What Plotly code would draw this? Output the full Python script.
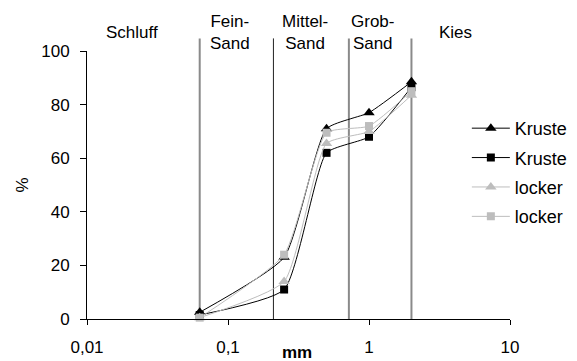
import numpy as np
import plotly.graph_objects as go

# data
grain_mm = [0.063, 0.25, 0.5, 1, 2]
kruste_tri = [2.5, 23, 71, 77, 88.5]
kruste_sq = [1.5, 11, 62, 68, 86.5]
locker_tri = [0.5, 14, 65.5, 70, 83.5]
locker_sq = [0.5, 24, 69.5, 72, 85]
boundaries_mm = [0.063, 0.21, 0.72, 2.0]
boundary_colors = ["#8a8a8a", "#222222", "#8a8a8a", "#8a8a8a"]
boundary_widths = [2, 1, 2, 2]
class_labels = ["Schluff", "Fein-<br>Sand", "Mittel-<br>Sand", "Grob-<br>Sand", "Kies"]
class_label_x = [0.107, 0.338, 0.515, 0.674, 0.870]
y_ticks = [0, 20, 40, 60, 80, 100]
x_ticks = [0.01, 0.1, 1, 10]
x_tick_text = ["0,01", "0,1", "1", "10"]

FONT = "Liberation Sans, Arial, sans-serif"
BLACK = "#000000"
GRAY = "#bdbdbd"

fig = go.Figure()
series = [
    ("Kruste", kruste_tri, "triangle-up", BLACK, 10),
    ("Kruste", kruste_sq, "square", BLACK, 8),
    ("locker", locker_tri, "triangle-up", GRAY, 10),
    ("locker", locker_sq, "square", GRAY, 8),
]
for i, (name, vals, sym, col, sz) in enumerate(series):
    fig.add_trace(go.Scatter(
        x=grain_mm, y=vals, name=name, mode="lines+markers",
        line=dict(color=col, width=1, shape="spline", smoothing=0.5),
        marker=dict(symbol=sym, size=sz, color=col),
        legendgroup=f"g{i}", cliponaxis=False,
    ))

for b, c, w in zip(boundaries_mm, boundary_colors, boundary_widths):
    fig.add_shape(type="line", xref="x", yref="paper",
                  x0=b, x1=b, y0=0, y1=1.047,
                  line=dict(color=c, width=w), layer="below")

for t, xp in zip(class_labels, class_label_x):
    fig.add_annotation(text=t, xref="paper", yref="paper", x=xp, y=1.070,
                       showarrow=False, font=dict(size=17, color="#000", family=FONT),
                       xanchor="center", yanchor="middle", align="center")

fig.add_annotation(text="<b>mm</b>", xref="paper", yref="paper", x=0.497, y=-0.126,
                   showarrow=False, font=dict(size=17, color="#000", family=FONT),
                   xanchor="center", yanchor="middle")

fig.update_layout(
    width=577, height=361,
    margin=dict(l=87, r=67, t=50.7, b=41.7, autoexpand=False),
    paper_bgcolor="white", plot_bgcolor="white",
    font=dict(family=FONT, size=17, color="#000"),
    showlegend=True,
    legend=dict(x=0.898, y=0.78, xanchor="left", yanchor="top",
                bgcolor="rgba(0,0,0,0)", font=dict(size=18, family=FONT),
                tracegroupgap=3, itemwidth=38),
    xaxis=dict(type="log", range=[-2, 1], tickvals=x_ticks, ticktext=x_tick_text,
               showgrid=False, zeroline=False, showline=True, linecolor="#000",
               linewidth=1, ticks="outside", ticklen=5, tickcolor="#000",
               ticklabelstandoff=8, automargin=False),
    yaxis=dict(range=[0, 100], tickvals=y_ticks, showgrid=False, zeroline=False,
               showline=True, linecolor="#000", linewidth=1, ticks="outside",
               ticklen=6, tickcolor="#000", ticklabelstandoff=7, automargin=False,
               title=dict(text="%", font=dict(size=17), standoff=8)),
)

fig.write_html("out.html")
